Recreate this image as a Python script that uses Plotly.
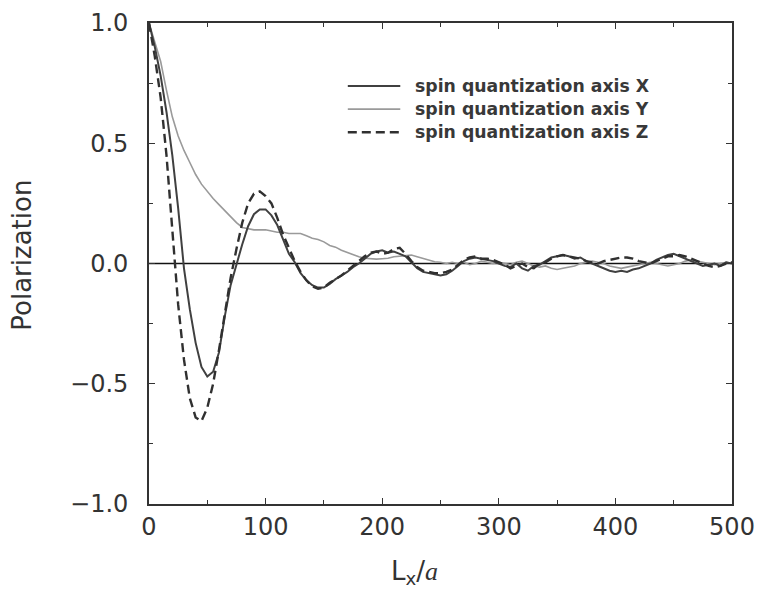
import plotly.graph_objects as go

# Sample positions L_x / a
lx = list(range(0, 505, 5))

# Polarization for each spin quantization axis
pol_x = [
    1.0, 0.90, 0.78, 0.63, 0.45, 0.23, -0.02, -0.19, -0.33, -0.43,
    -0.47, -0.45, -0.37, -0.22, -0.09, 0.0, 0.08, 0.155, 0.205, 0.225,
    0.225, 0.20, 0.16, 0.10, 0.04, 0.005, -0.04, -0.07, -0.09, -0.10,
    -0.10, -0.085, -0.065, -0.05, -0.035, -0.015, 0.0, 0.02, 0.04, 0.05,
    0.055, 0.045, 0.05, 0.04, 0.03, 0.005, -0.02, -0.035, -0.04, -0.045,
    -0.05, -0.045, -0.03, -0.01, 0.01, 0.02, 0.025, 0.02, 0.015, 0.01,
    0.0, -0.01, -0.015, 0.0, -0.02, -0.03, -0.01, -0.005, 0.01, 0.025,
    0.03, 0.035, 0.03, 0.02, 0.025, 0.01, 0.0, -0.01, -0.02, -0.03,
    -0.035, -0.03, -0.035, -0.025, -0.02, -0.01, 0.0, 0.015, 0.025, 0.035,
    0.04, 0.03, 0.02, 0.01, 0.0, -0.01, -0.005, 0.0, -0.01, 0.005,
    0.0,
]

pol_y = [
    1.0, 0.92, 0.84, 0.72, 0.61, 0.53, 0.47, 0.42, 0.37, 0.33,
    0.30, 0.27, 0.245, 0.22, 0.195, 0.17, 0.15, 0.145, 0.14, 0.14,
    0.14, 0.135, 0.13, 0.13, 0.125, 0.125, 0.125, 0.115, 0.105, 0.10,
    0.09, 0.075, 0.068, 0.055, 0.045, 0.035, 0.028, 0.022, 0.02, 0.018,
    0.02, 0.022, 0.028, 0.03, 0.033, 0.035, 0.028, 0.02, 0.012, 0.007,
    0.005, 0.0, 0.005, 0.0, 0.005, -0.005, 0.0, 0.01, 0.005, 0.0,
    0.005, 0.0, -0.005, 0.005, 0.01, 0.0, -0.01, -0.015, -0.01, -0.02,
    -0.025, -0.02, -0.015, -0.01, 0.0, 0.005, 0.01, 0.005, 0.0, -0.01,
    -0.015, -0.02, -0.015, -0.01, -0.005, 0.0, 0.005, 0.0, -0.005, -0.01,
    -0.005, 0.0, 0.01, 0.015, 0.01, 0.005, 0.0, -0.005, 0.0, 0.005,
    0.0,
]

pol_z = [
    1.0, 0.86, 0.69, 0.45, 0.14, -0.17, -0.40, -0.56, -0.64, -0.655,
    -0.60, -0.50, -0.36, -0.20, -0.06, 0.06, 0.17, 0.25, 0.29, 0.30,
    0.28, 0.25, 0.19, 0.12, 0.065, 0.01, -0.035, -0.07, -0.095, -0.105,
    -0.10, -0.08, -0.065, -0.05, -0.03, -0.01, 0.01, 0.03, 0.045, 0.05,
    0.04, 0.045, 0.06, 0.065, 0.04, 0.01, -0.015, -0.03, -0.035, -0.04,
    -0.04, -0.035, -0.025, -0.005, 0.015, 0.025, 0.03, 0.02, 0.02, 0.015,
    0.005, -0.005, -0.02, -0.01, 0.0, -0.015, -0.02, 0.0, 0.005, 0.02,
    0.03, 0.035, 0.03, 0.025, 0.02, 0.01, 0.005, 0.0, 0.01, 0.015,
    0.02, 0.025, 0.025, 0.02, 0.01, 0.005, 0.0, 0.01, 0.02, 0.03,
    0.03, 0.035, 0.03, 0.02, 0.01, 0.0, -0.01, -0.015, -0.01, 0.0,
    0.005,
]

legend_labels = [
    "spin quantization axis X",
    "spin quantization axis Y",
    "spin quantization axis Z",
]

x_ticks = [0, 100, 200, 300, 400, 500]
y_ticks = [-1.0, -0.5, 0.0, 0.5, 1.0]

FONT = "DejaVu Sans, Liberation Sans, Arial, sans-serif"
TEXT = "#333333"

styles = [
    dict(color="#404040", width=2.0, dash="solid"),
    dict(color="#9a9a9a", width=1.6, dash="solid"),
    dict(color="#303030", width=2.4, dash="9px,5px"),
]

fig = go.Figure()

# zero reference line
fig.add_trace(go.Scatter(
    x=[x_ticks[0], x_ticks[-1]], y=[0, 0], mode="lines",
    line=dict(color="#111111", width=1.3), showlegend=False, hoverinfo="skip",
))

for series, st in zip([pol_y, pol_x, pol_z], [styles[1], styles[0], styles[2]]):
    fig.add_trace(go.Scatter(
        x=lx, y=series, mode="lines", line=st, showlegend=False,
    ))

# line-sample legend in the upper right of the plot area
rows_y = [0.869, 0.821, 0.773]
shapes = []
annotations = []
for label, st, ry in zip(legend_labels, styles, rows_y):
    shapes.append(dict(
        type="line", xref="paper", yref="paper",
        x0=0.341, x1=0.431, y0=ry, y1=ry,
        line=dict(color=st["color"], width=st["width"], dash=st["dash"]),
    ))
    annotations.append(dict(
        xref="paper", yref="paper", x=0.453, y=ry, xanchor="left", yanchor="middle",
        text="<b>" + label + "</b>", showarrow=False,
        font=dict(family=FONT, size=17.3, color="#383838"),
    ))

# axis titles
annotations.append(dict(
    xref="paper", yref="paper", x=0.456, y=-0.143, xanchor="center", yanchor="middle",
    text="L<sub>x</sub>/<span style=\"font-family:'Liberation Serif',serif;font-style:italic\">a</span>",
    showarrow=False, font=dict(family=FONT, size=26, color=TEXT),
))
annotations.append(dict(
    xref="paper", yref="paper", x=-0.218, y=0.518, xanchor="center", yanchor="middle",
    text="Polarization", textangle=-90,
    showarrow=False, font=dict(family=FONT, size=26, color=TEXT),
))

fig.update_layout(
    width=758, height=591,
    margin=dict(l=149, r=26, t=23, b=87, autoexpand=False),
    paper_bgcolor="white", plot_bgcolor="white",
    font=dict(family=FONT, color=TEXT),
    shapes=shapes, annotations=annotations,
    showlegend=False,
)

axis_common = dict(
    showline=True, linecolor="#333333", linewidth=1.6, mirror="allticks",
    ticks="inside", ticklen=6, tickwidth=1, tickcolor="#333333",
    showgrid=False, zeroline=False, automargin=False,
    tickfont=dict(family=FONT, size=24, color=TEXT),
    minor=dict(ticks="inside", ticklen=4, tickcolor="#333333", tickwidth=1),
)

fig.update_xaxes(
    range=[0, 500], tickvals=x_ticks, ticktext=[str(v) for v in x_ticks],
    minor_dtick=50, ticklabelstandoff=0,
    **axis_common,
)
fig.update_yaxes(
    range=[-1.0, 1.0], tickvals=y_ticks, ticktext=["\u22121.0", "\u22120.5", "0.0", "0.5", "1.0"],
    minor_dtick=0.25, ticklabelstandoff=14,
    **axis_common,
)

fig.write_html("out.html")
